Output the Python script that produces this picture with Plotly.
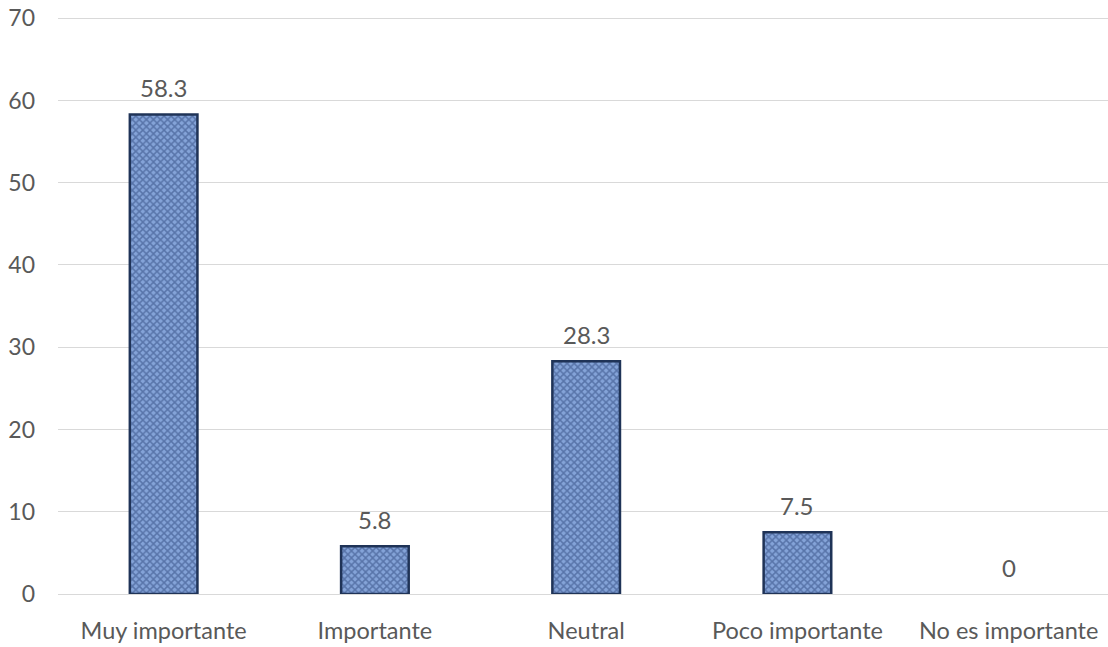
import plotly.graph_objects as go

categories = ["Muy importante", "Importante", "Neutral", "Poco importante", "No es importante"]
values = [58.3, 5.8, 28.3, 7.5, 0]
labels = ["58.3", "5.8", "28.3", "7.5", "0"]
y_ticks = [0, 10, 20, 30, 40, 50, 60, 70]

FONT = "Lato"
TXT = "#595959"

fig = go.Figure()
fig.add_trace(go.Bar(
    x=categories, y=values, width=0.32,
    marker=dict(
        color="#7898d0",
        line=dict(color="#1f3357", width=[2.5 if v > 0 else 0 for v in values]),
        pattern=dict(shape="x", fgcolor="#2c4679", bgcolor="#84a3d8", size=5, solidity=0.5),
    ),
    hoverinfo="skip",
))

for c, v, t in zip(categories, values, labels):
    fig.add_annotation(x=c, y=v, text=t, showarrow=False, yanchor="bottom",
                       yshift=10, font=dict(family=FONT, size=24, color=TXT))

fig.update_layout(
    width=1108, height=647,
    margin=dict(l=58, r=0, t=17, b=53),
    paper_bgcolor="white", plot_bgcolor="white",
    showlegend=False,
    font=dict(family=FONT, size=24, color=TXT),
    xaxis=dict(range=[-0.5, 4.47], showgrid=False, showline=True, linecolor="#d9d9d9",
               linewidth=1, ticks="", ticklabelstandoff=16, automargin=False,
               ticklabeloverflow="allow",
               tickfont=dict(family=FONT, size=23.5, color=TXT)),
    yaxis=dict(range=[0, 70.15], tickvals=y_ticks, showgrid=True, gridcolor="#d9d9d9",
               gridwidth=1, zeroline=False, showline=False, ticks="",
               ticklabelstandoff=22, automargin=False, ticklabeloverflow="allow",
               tickfont=dict(family=FONT, size=23, color=TXT)),
)

fig.write_html("out.html", config={"displayModeBar": False},
               post_script="document.body.style.margin='0';document.body.style.overflow='hidden';")
